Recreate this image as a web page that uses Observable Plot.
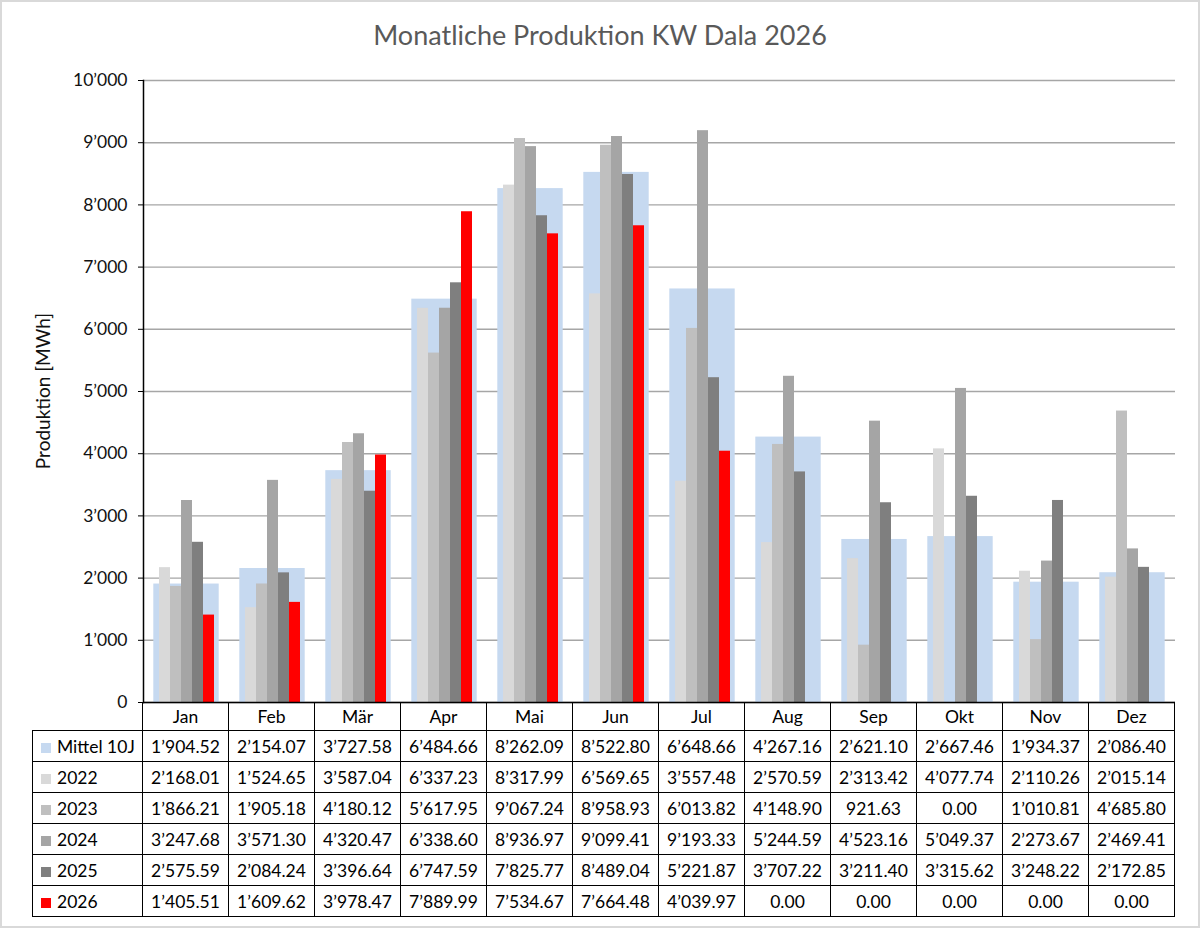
<!DOCTYPE html>
<html>
<head>
<meta charset="utf-8">
<script src="https://cdn.jsdelivr.net/npm/d3@7"></script>
<script src="https://cdn.jsdelivr.net/npm/@observablehq/plot@0.6"></script>
<style>
  html, body { margin: 0; padding: 0; background: #fff; }
  #chart { position: relative; width: 1200px; height: 928px; background: #fff; font-family: Lato, "Open Sans", sans-serif; overflow: hidden; }
  #frame { position: absolute; left: 0; top: 0; width: 1200px; height: 928px; box-sizing: border-box; border: 2px solid #d9d9d9; pointer-events: none; }
  #title { position: absolute; left: 0; top: 18px; width: 1200px; text-align: center; font-size: 27px; color: #595959; }
  #ylabel { position: absolute; left: 42px; top: 391px; transform: translate(-50%, -50%) rotate(-90deg); font-size: 19px; color: #111; white-space: nowrap; }
  #plot { position: absolute; left: 0; top: 60px; }
  #table { position: absolute; left: 32px; top: 702px; border-collapse: collapse; table-layout: fixed; font-size: 17.5px; color: #000; }
  #table td { border: 1.5px solid #000; text-align: center; padding: 0; white-space: nowrap; }
  #table tr.head td { height: 28px; border-top: none; }
  #table tr.data td { height: 30px; }
  #table td.lab { text-align: left; padding-left: 8px; }
  #table td.empty { border: none; border-bottom: 1.5px solid #000; }
  .sw { display: inline-block; width: 10px; height: 10px; margin-right: 6px; vertical-align: 0px; }
</style>
</head>
<body>
<div id="chart">
  <div id="title">Monatliche Produktion KW Dala 2026</div>
  <div id="ylabel">Produktion [MWh]</div>
  <div id="plot"></div>
  <table id="table"></table>
  <div id="frame"></div>
</div>
<script>
const months = ["Jan","Feb","Mär","Apr","Mai","Jun","Jul","Aug","Sep","Okt","Nov","Dez"];
const mittel10J = [1904.52,2154.07,3727.58,6484.66,8262.09,8522.80,6648.66,4267.16,2621.10,2667.46,1934.37,2086.40];
const v2022 = [2168.01,1524.65,3587.04,6337.23,8317.99,6569.65,3557.48,2570.59,2313.42,4077.74,2110.26,2015.14];
const v2023 = [1866.21,1905.18,4180.12,5617.95,9067.24,8958.93,6013.82,4148.90,921.63,0.00,1010.81,4685.80];
const v2024 = [3247.68,3571.30,4320.47,6338.60,8936.97,9099.41,9193.33,5244.59,4523.16,5049.37,2273.67,2469.41];
const v2025 = [2575.59,2084.24,3396.64,6747.59,7825.77,8489.04,5221.87,3707.22,3211.40,3315.62,3248.22,2172.85];
const v2026 = [1405.51,1609.62,3978.47,7889.99,7534.67,7664.48,4039.97,0.00,0.00,0.00,0.00,0.00];
const years = ["2022","2023","2024","2025","2026"];
const yearValues = [v2022, v2023, v2024, v2025, v2026];
const seriesNames = ["Mittel 10J", ...years];
const seriesColors = ["#c6d9f0","#d9d9d9","#bfbfbf","#a5a5a5","#7f7f7f","#ff0000"];
const yTicks = [0,1000,2000,3000,4000,5000,6000,7000,8000,9000,10000];

const locale = d3.formatLocale({decimal: ".", thousands: "\u2019", grouping: [3], currency: ["", ""]});
const fmtTick = locale.format(",d");
const fmtVal = locale.format(",.2f");

const avgData = months.map((m, i) => ({month: m, value: mittel10J[i]}));
const yearData = [];
years.forEach((y, j) => months.forEach((m, i) => yearData.push({month: m, year: y, value: yearValues[j][i]})));

const plot = Plot.plot({
  width: 1200,
  height: 652,
  marginTop: 20,
  marginBottom: 10,
  marginLeft: 142,
  marginRight: 25,
  style: {fontFamily: "Lato, 'Open Sans', sans-serif", fontSize: "17.5px", color: "#111", background: "transparent", overflow: "visible"},
  fx: {domain: months, padding: 0, axis: null, label: null},
  x: {domain: years, paddingInner: 0, paddingOuter: 1.15, axis: null},
  y: {domain: [0, 10000], axis: null},
  color: {domain: years, range: seriesColors.slice(1)},
  marks: [
    Plot.gridY(yTicks, {stroke: "#a6a6a6", strokeOpacity: 1, strokeWidth: 1.4}),
    Plot.barY(avgData, {fx: "month", y: "value", fill: seriesColors[0], insetLeft: 10.3, insetRight: 10.3}),
    Plot.barY(yearData, {fx: "month", x: "year", y: "value", fill: "year"}),
    Plot.ruleY([0], {stroke: "#000", strokeWidth: 1.5}),
    Plot.axisY(yTicks, {tickFormat: fmtTick, tickSize: 5, tickPadding: 11, stroke: "#000", fill: "#111",
      label: null, facetAnchor: "left"}),
    Plot.frame({anchor: "left", facetAnchor: "left", stroke: "#000", strokeWidth: 1.5})
  ]
});
document.getElementById("plot").appendChild(plot);

// Build the data table aligned to the fx band scale
const fx = plot.scale("fx");
const bw = fx.bandwidth ?? (1200 - 142 - 25) / months.length;
const firstW = 142 - 32;
const table = document.getElementById("table");
const colgroup = document.createElement("colgroup");
[firstW, ...months.map(() => bw)].forEach(w => {
  const c = document.createElement("col"); c.style.width = w + "px"; colgroup.appendChild(c);
});
table.appendChild(colgroup);
table.style.width = (firstW + bw * months.length) + "px";
const head = document.createElement("tr");
head.className = "head";
const e0 = document.createElement("td"); e0.className = "empty"; head.appendChild(e0);
months.forEach(m => { const td = document.createElement("td"); td.textContent = m; head.appendChild(td); });
table.appendChild(head);
const allSeries = [mittel10J, ...yearValues];
seriesNames.forEach((name, k) => {
  const tr = document.createElement("tr");
  tr.className = "data";
  const lab = document.createElement("td");
  lab.className = "lab";
  const sw = document.createElement("span"); sw.className = "sw"; sw.style.background = seriesColors[k];
  lab.appendChild(sw); lab.appendChild(document.createTextNode(name));
  tr.appendChild(lab);
  allSeries[k].forEach(v => { const td = document.createElement("td"); td.textContent = fmtVal(v); tr.appendChild(td); });
  table.appendChild(tr);
});
</script>
</body>
</html>
